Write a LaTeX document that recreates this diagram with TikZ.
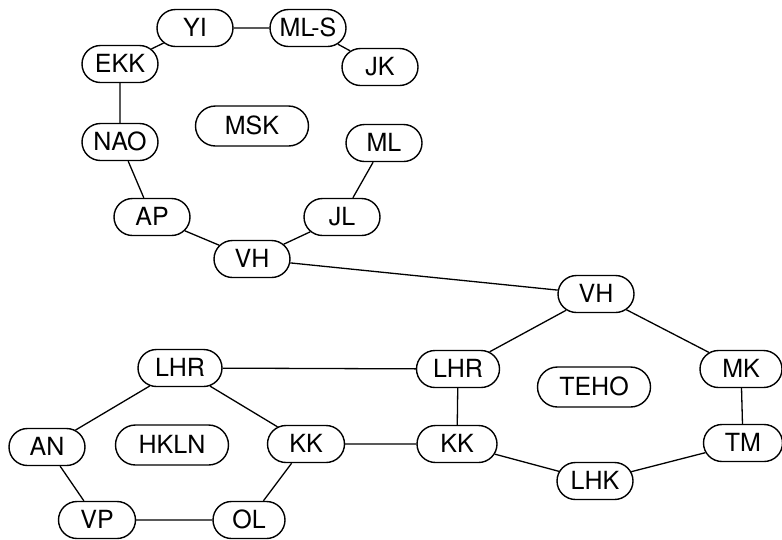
\documentclass[tikz,border=0pt]{standalone}
\usepackage{fontspec}
\setmainfont{TeX Gyre Heros}
\usetikzlibrary{shapes.misc}
\begin{document}
\begin{tikzpicture}[x=1pt,y=-1pt,
  box/.style={draw, rounded rectangle, line width=1.4pt, minimum height=37pt,
    minimum width=76pt, inner sep=0pt, text height=17pt, text depth=-1pt,
    font=\fontsize{25}{25}\selectfont},
  wide/.style={box, minimum width=113pt, minimum height=40pt},
  link/.style={line width=1.3pt}]
\useasboundingbox (0,0) rectangle (782,539);
% top cluster
\node[box] (yi) at (195,28) {YI};
\node[box] (mls) at (308,28) {ML-S};
\node[box] (ekk) at (120,64) {EKK};
\node[box] (jk) at (380,67) {JK};
\node[wide] (msk) at (252,126) {MSK};
\node[box] (nao) at (120,142) {NAO};
\node[box] (ml) at (384,143) {ML};
\node[box] (ap) at (152,217) {AP};
\node[box] (jl) at (342,217) {JL};
\node[box] (vha) at (252,259) {VH};
% right cluster
\node[box] (vhb) at (596,294) {VH};
\node[box, minimum width=83pt] (lhrb) at (458,369) {LHR};
\node[wide] (teho) at (594,387) {TEHO};
\node[box, minimum width=82pt] (mk) at (741,369) {MK};
\node[box, minimum width=80pt] (kkb) at (457,444) {KK};
\node[box, minimum width=79pt] (tm) at (743,443) {TM};
\node[box] (lhk) at (595,481) {LHK};
% left cluster
\node[box, minimum width=84pt] (lhra) at (180,368) {LHR};
\node[box] (an) at (47,447) {AN};
\node[wide] (hkln) at (172,445) {HKLN};
\node[box, minimum width=77pt] (kka) at (306,444) {KK};
\node[box, minimum width=77pt] (vp) at (97,520) {VP};
\node[box, minimum width=72pt] (ol) at (249,520) {OL};
% links
\draw[link] (yi) -- (ekk);
\draw[link] (yi) -- (mls);
\draw[link] (mls) -- (jk);
\draw[link] (ekk) -- (nao);
\draw[link] (nao) -- (ap);
\draw[link] (ap) -- (vha);
\draw[link] (vha) -- (jl);
\draw[link] (jl) -- (ml);
\draw[link] (vha) -- (vhb);
\draw[link] (vhb) -- (lhrb);
\draw[link] (vhb) -- (mk);
\draw[link] (mk) -- (tm);
\draw[link] (tm) -- (lhk);
\draw[link] (lhk) -- (kkb);
\draw[link] (kkb) -- (lhrb);
\draw[link] (lhrb) -- (lhra);
\draw[link] (lhra) -- (an);
\draw[link] (lhra) -- (kka);
\draw[link] (kka) -- (kkb);
\draw[link] (kka) -- (ol);
\draw[link] (ol) -- (vp);
\draw[link] (vp) -- (an);
\end{tikzpicture}
\end{document}
